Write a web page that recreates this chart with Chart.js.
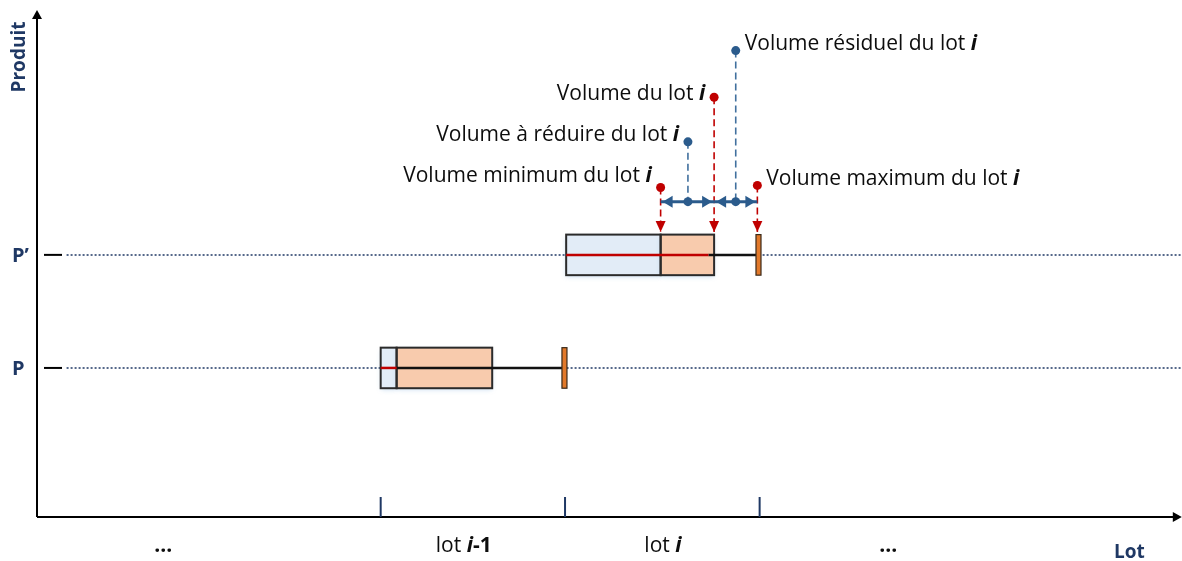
<!DOCTYPE html>
<html>
<head>
<meta charset="utf-8">
<script src="https://cdn.jsdelivr.net/npm/chart.js@4"></script>
<style>
  body { margin: 0; background: #fff; }
  canvas { display: block; }
</style>
</head>
<body>
<canvas id="diagram" width="1182" height="561"></canvas>
<script>

const levels = ['P', 'P\u2019']
const levelY = [29.4, 51.7]

const lotEdges = [30.2, 46.4, 63.5]
const lotLabels = ['...', 'lot i-1', 'lot i', '...']
const lotLabelX = [11.1, 37.5, 55.0, 74.8]

// one box per level: blue part, orange part, then whisker to the cap
const boxStart = [30.2, 46.5]
const boxSplit = [31.6, 54.8]
const boxEnd = [40.0, 59.5]
const medianEnd = [31.6, 59.0]
const boxCap = [46.35, 63.4]
const boxHalf = 4.0

const markNames = [
  'Volume minimum du lot i',
  'Volume à réduire du lot i',
  'Volume du lot i',
  'Volume résiduel du lot i',
  'Volume maximum du lot i'
]
const markX = [54.8, 57.2, 59.5, 61.4, 63.3]
const markY = [65.0, 74.0, 82.8, 92.0, 65.4]
const rangeY = 62.2
const arrowTipY = 56.2

const redMarks = [0, 2, 4]
const blueMarks = [1, 3]

// layout / styles
const FONT = '"Open Sans", sans-serif'
const NAVY = '#1F3864'
const RED = '#C00000'
const BLUE = '#2B5B8C'
const BLUE_DASH = '#41709E'
const BOX_BLUE = '#E2ECF7'
const BOX_ORANGE = '#F8CBAD'
const CAP_ORANGE = '#E2792A'
const markSide = [-1, -1, -1, 1, 1]
const labelDy = [-5, -1, 3, -1, 0]
const guideStart = 2.6
const guideEnd = 100.6
const axisXEnd = 100.6
const lotTitleX = 96

const px = (chart, v) => chart.scales.x.getPixelForValue(v)
const py = (chart, v) => chart.scales.y.getPixelForValue(v)

const lineSet = (points, color, width, dash, order) => ({
  data: points,
  showLine: true,
  borderColor: color,
  borderWidth: width,
  borderDash: dash || [],
  pointRadius: 0,
  pointHoverRadius: 0,
  clip: false,
  order: order || 0
})

const dotSet = (points, color) => ({
  data: points,
  showLine: false,
  pointRadius: 4.5,
  pointHoverRadius: 4.5,
  pointBackgroundColor: color,
  pointBorderColor: color,
  pointBorderWidth: 0,
  clip: false
})

const datasets = []
datasets.push(dotSet(redMarks.map(i => ({ x: markX[i], y: markY[i] })), RED))
datasets.push(dotSet([
  ...blueMarks.map(i => ({ x: markX[i], y: markY[i] })),
  ...blueMarks.map(i => ({ x: markX[i], y: rangeY }))
], BLUE))
datasets.push(lineSet([{ x: markX[0], y: rangeY }, { x: markX[2], y: rangeY }], BLUE, 3))
datasets.push(lineSet([{ x: markX[2], y: rangeY }, { x: markX[4], y: rangeY }], BLUE, 3))
redMarks.forEach(i => datasets.push(lineSet([{ x: markX[i], y: markY[i] }, { x: markX[i], y: arrowTipY }], RED, 1.6, [7, 4])))
blueMarks.forEach(i => datasets.push(lineSet([{ x: markX[i], y: markY[i] }, { x: markX[i], y: rangeY }], BLUE_DASH, 1.6, [7, 4])))
levelY.forEach((y, i) => {
  datasets.push(lineSet([{ x: boxStart[i], y }, { x: medianEnd[i], y }], RED, 2.5))
  datasets.push(lineSet([{ x: medianEnd[i], y }, { x: boxCap[i], y }], '#111111', 2.5))
})
// dotted guides, drawn first; boxes go right after them
datasets.push({
  ...lineSet(levelY.flatMap(y => [{ x: guideStart, y }, { x: guideEnd, y }, { x: guideEnd, y: null }]), NAVY, 1.5, [2, 2], 10),
  spanGaps: false,
  drawBoxesAfter: true
})

const arrowHead = (ctx, x, y, angle, len, half, color) => {
  ctx.save()
  ctx.translate(x, y)
  ctx.rotate(angle)
  ctx.beginPath()
  ctx.moveTo(0, 0)
  ctx.lineTo(-len, -half)
  ctx.lineTo(-len, half)
  ctx.closePath()
  ctx.fillStyle = color
  ctx.fill()
  ctx.restore()
}

const runsFor = (text) => {
  // lot index "i" is bold italic, "-1" bold, the dots bold
  const m = text.match(/^(.*?)(i)(-1)?$/)
  if (!m) return [[text, 'bold']]
  const runs = [[m[1], ''], [m[2], 'italic bold']]
  if (m[3]) runs.push([m[3], 'bold'])
  return runs
}

const drawRuns = (ctx, runs, x, y, align, size) => {
  const widths = runs.map(([t, s]) => {
    ctx.font = `${s} ${size}px ${FONT}`
    return ctx.measureText(t).width
  })
  const total = widths.reduce((a, b) => a + b, 0)
  let cx = align === 'right' ? x - total : align === 'center' ? x - total / 2 : x
  runs.forEach(([t, s], k) => {
    ctx.font = `${s} ${size}px ${FONT}`
    ctx.fillText(t, cx, y)
    cx += widths[k]
  })
}

const drawBoxes = (chart) => {
  const ctx = chart.ctx
  levelY.forEach((y, i) => {
    const top = py(chart, y + boxHalf)
    const bottom = py(chart, y - boxHalf)
    const x0 = px(chart, boxStart[i])
    const x1 = px(chart, boxSplit[i])
    const x2 = px(chart, boxEnd[i])
    ctx.save()
    ctx.shadowColor = 'rgba(91, 155, 213, 0.35)'
    ctx.shadowBlur = 5
    ctx.shadowOffsetY = 2
    ctx.fillStyle = BOX_BLUE
    ctx.fillRect(x0, top, x1 - x0, bottom - top)
    ctx.fillStyle = BOX_ORANGE
    ctx.fillRect(x1, top, x2 - x1, bottom - top)
    ctx.restore()
    ctx.save()
    ctx.strokeStyle = '#2B2B2B'
    ctx.lineWidth = 2
    ctx.strokeRect(x0, top, x1 - x0, bottom - top)
    ctx.strokeRect(x1, top, x2 - x1, bottom - top)
    ctx.restore()
  })
}

const drawCaps = (chart) => {
  const ctx = chart.ctx
  levelY.forEach((y, i) => {
    const top = py(chart, y + boxHalf)
    const bottom = py(chart, y - boxHalf)
    const cx = px(chart, boxCap[i])
    ctx.save()
    ctx.fillStyle = CAP_ORANGE
    ctx.fillRect(cx - 2.5, top, 5, bottom - top)
    ctx.strokeStyle = '#3A2A1A'
    ctx.lineWidth = 1.2
    ctx.strokeRect(cx - 2.5, top, 5, bottom - top)
    ctx.restore()
  })
}

const drawAxes = (chart) => {
  const ctx = chart.ctx
  const x0 = px(chart, 0)
  const y0 = py(chart, 0)
  const yTop = py(chart, 100)
  const xEnd = px(chart, axisXEnd)
  ctx.save()
  ctx.strokeStyle = '#000'
  ctx.lineWidth = 2
  ctx.beginPath()
  ctx.moveTo(x0, y0)
  ctx.lineTo(x0, yTop + 6)
  ctx.moveTo(x0, y0)
  ctx.lineTo(xEnd - 6, y0)
  ctx.stroke()
  arrowHead(ctx, x0, yTop, -Math.PI / 2, 9, 5, '#000')
  arrowHead(ctx, xEnd, y0, 0, 9, 5, '#000')

  // lot boundaries on the x axis
  ctx.strokeStyle = NAVY
  ctx.lineWidth = 2
  lotEdges.forEach(v => {
    ctx.beginPath()
    ctx.moveTo(px(chart, v), y0 - 20)
    ctx.lineTo(px(chart, v), y0)
    ctx.stroke()
  })

  // short dashes for the product levels
  ctx.strokeStyle = '#000'
  levelY.forEach(v => {
    ctx.beginPath()
    ctx.moveTo(x0 + 7, py(chart, v))
    ctx.lineTo(x0 + 25, py(chart, v))
    ctx.stroke()
  })
  ctx.restore()
}

const drawArrows = (chart) => {
  const ctx = chart.ctx
  redMarks.forEach(i => arrowHead(ctx, px(chart, markX[i]), py(chart, arrowTipY), Math.PI / 2, 11, 5, RED))
  const yr = py(chart, rangeY)
  const ends = [[markX[0], markX[2]], [markX[2], markX[4]]]
  ends.forEach(([a, b]) => {
    arrowHead(ctx, px(chart, a) + 2, yr, Math.PI, 10, 6, BLUE)
    arrowHead(ctx, px(chart, b) - 2, yr, 0, 10, 6, BLUE)
  })
}

const drawTexts = (chart) => {
  const ctx = chart.ctx
  ctx.save()
  ctx.textBaseline = 'alphabetic'
  ctx.fillStyle = '#0D0D0D'
  markNames.forEach((name, i) => {
    const x = px(chart, markX[i]) + markSide[i] * 9
    const y = py(chart, markY[i]) + labelDy[i]
    drawRuns(ctx, runsFor(name), x, y, markSide[i] < 0 ? 'right' : 'left', 21)
  })

  const y0 = py(chart, 0)
  lotLabels.forEach((label, i) => {
    drawRuns(ctx, runsFor(label), px(chart, lotLabelX[i]), y0 + 35, 'center', 21)
  })

  ctx.fillStyle = NAVY
  ctx.font = `bold 19px ${FONT}`
  ctx.textAlign = 'center'
  ctx.fillText('Lot', px(chart, lotTitleX), y0 + 41)

  ctx.textAlign = 'left'
  ctx.textBaseline = 'middle'
  ctx.font = `bold 20px ${FONT}`
  levels.forEach((name, i) => {
    ctx.fillText(name, px(chart, 0) - 25, py(chart, levelY[i]) + 1)
  })

  ctx.translate(px(chart, 0) - 17, py(chart, 100) + 47)
  ctx.rotate(-Math.PI / 2)
  ctx.textAlign = 'center'
  ctx.font = `bold 19px ${FONT}`
  ctx.fillText('Produit', 0, 0)
  ctx.restore()
}

const diagramPlugin = {
  id: 'diagram',
  beforeDatasetsDraw (chart) {
    drawAxes(chart)
  },
  afterDatasetDraw (chart, args) {
    if (chart.data.datasets[args.index].drawBoxesAfter) drawBoxes(chart)
  },
  afterDatasetsDraw (chart) {
    drawCaps(chart)
    drawArrows(chart)
  },
  afterDraw (chart) {
    drawTexts(chart)
  }
}

document.addEventListener('DOMContentLoaded', () => {
  new Chart(document.getElementById('diagram'), {
    type: 'scatter',
    data: { datasets },
    options: {
      responsive: false,
      animation: false,
      events: [],
      layout: { padding: { left: 37, right: 7, top: 10, bottom: 44 } },
      scales: {
        x: { type: 'linear', min: 0, max: 100, display: false },
        y: { type: 'linear', min: 0, max: 100, display: false }
      },
      plugins: {
        legend: { display: false },
        tooltip: { enabled: false }
      }
    },
    plugins: [diagramPlugin]
  })
})
</script>
</body>
</html>
